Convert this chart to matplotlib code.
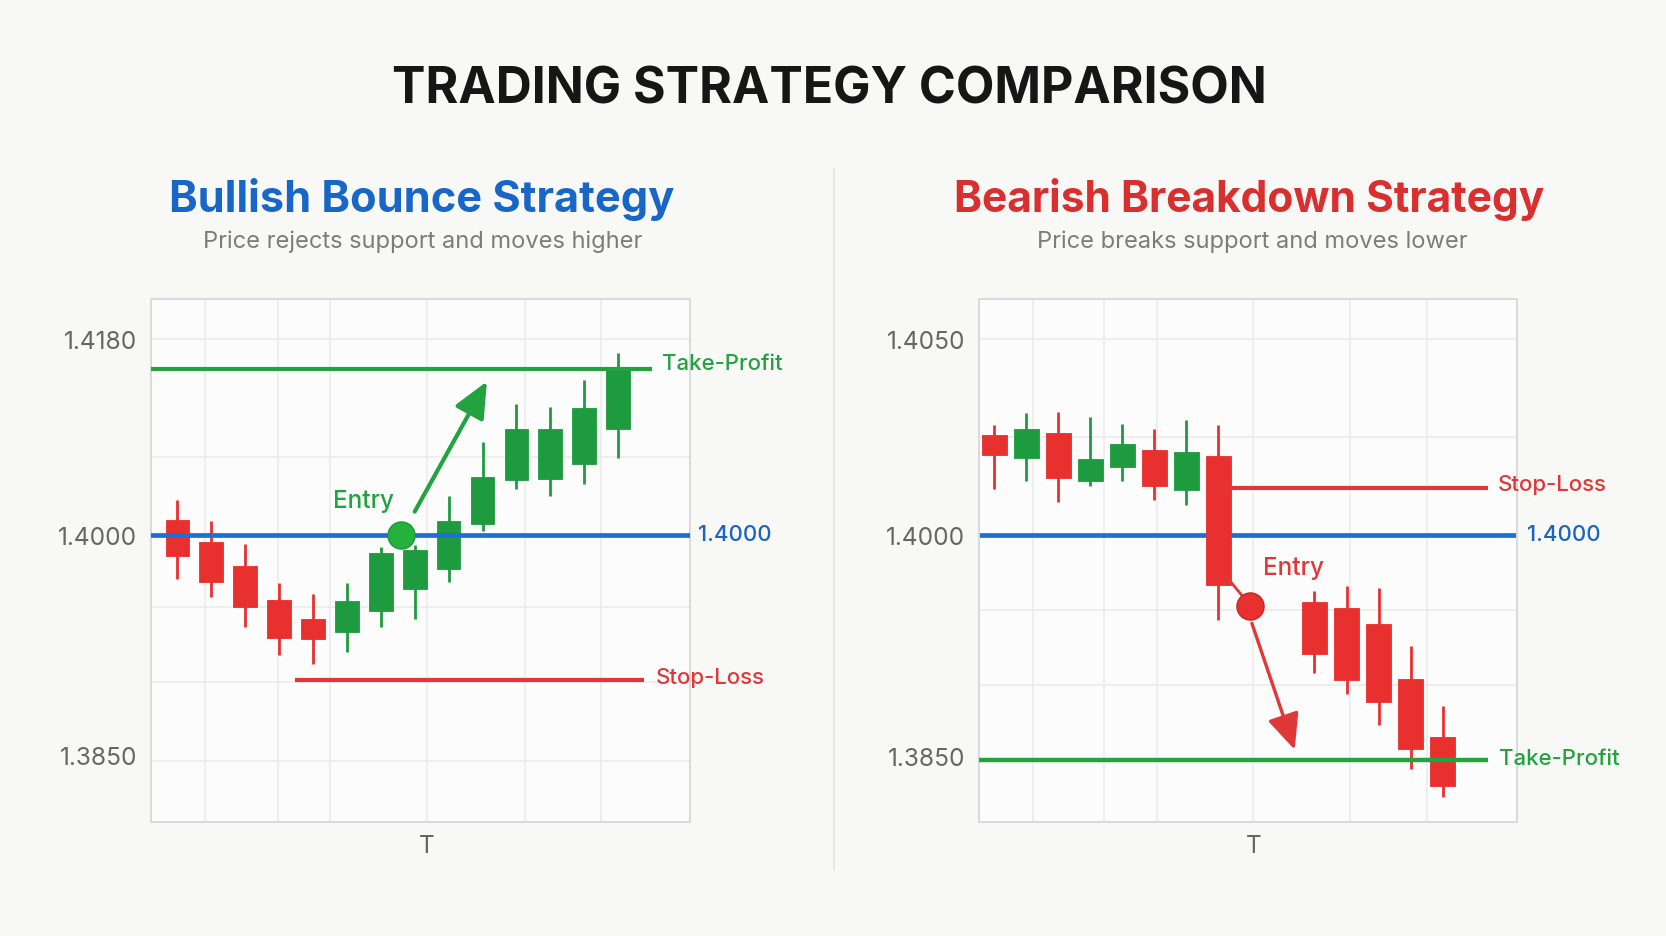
import numpy as np
import matplotlib
matplotlib.use("Agg")
import matplotlib.pyplot as plt
from matplotlib.patches import FancyArrowPatch
from matplotlib.lines import Line2D

# ---------------- data ----------------
bull_t = list(range(14))
bull_open  = [1.4014, 1.3995, 1.3979, 1.3956, 1.3943, 1.3934, 1.3948, 1.3963, 1.3977, 1.4010, 1.4051, 1.4052, 1.4065, 1.4098]
bull_high  = [1.4032, 1.4013, 1.3994, 1.3967, 1.3960, 1.3967, 1.3992, 1.3993, 1.4036, 1.4086, 1.4121, 1.4118, 1.4143, 1.4168]
bull_low   = [1.3970, 1.3958, 1.3937, 1.3918, 1.3912, 1.3920, 1.3937, 1.3943, 1.3968, 1.4004, 1.4042, 1.4036, 1.4047, 1.4071]
bull_close = [1.3986, 1.3968, 1.3951, 1.3930, 1.3929, 1.3955, 1.3988, 1.3990, 1.4013, 1.4053, 1.4098, 1.4098, 1.4117, 1.4152]

bear_t = [0, 1, 2, 3, 4, 5, 6, 7, 10, 11, 12, 13, 14]
bear_open  = [1.40255, 1.40196, 1.40259, 1.40138, 1.40173, 1.40218, 1.40115, 1.40202, 1.39544, 1.39503, 1.39393, 1.39018, 1.38624]
bear_high  = [1.40281, 1.40311, 1.40313, 1.40300, 1.40283, 1.40270, 1.40293, 1.40281, 1.39621, 1.39655, 1.39637, 1.39247, 1.38839]
bear_low   = [1.40117, 1.40139, 1.40085, 1.40126, 1.40139, 1.40089, 1.40077, 1.39422, 1.39059, 1.38916, 1.38710, 1.38408, 1.38216]
bear_close = [1.40205, 1.40270, 1.40145, 1.40195, 1.40233, 1.40124, 1.40212, 1.39662, 1.39190, 1.39016, 1.38866, 1.38542, 1.38295]

support_level = 1.4000
bull_tp, bull_sl = 1.4153, 1.3901
bear_sl, bear_tp = 1.4012, 1.3847

bull_entry = (6.61, 1.4000)
bear_entry = (8.0, 1.3952)

bull_yticks = [1.3850, 1.4000, 1.4180]
bear_yticks = [1.3850, 1.4000, 1.4050]
tick_fmt = "{:.4f}"
x_label = "T"

main_title = "TRADING STRATEGY COMPARISON"
bull_title = "Bullish Bounce Strategy"
bull_sub = "Price rejects support and moves higher"
bear_title = "Bearish Breakdown Strategy"
bear_sub = "Price breaks support and moves lower"

# ---------------- style ----------------
GREEN = "#1f9b3f"
GREEN_LINE = "#23a340"
DOT_GREEN = "#24b13c"
RED = "#e8302f"
RED_LINE = "#e03838"
BLUE_LINE = "#1d6fd8"
BLUE_TXT = "#1c63c4"
TITLE_BLUE = "#1766c8"
TITLE_RED = "#d92f2f"
GRID = "#ebebeb"
SPINE = "#dadada"
BG = "#f8f8f7"
AX_BG = "#fcfcfc"

W, H = 1666, 937
fig = plt.figure(figsize=(W / 100, H / 100), dpi=100, facecolor=BG)


def piecewise_scale(prices, fracs):
    p = np.asarray(prices, float)
    f = np.asarray(fracs, float)
    s0 = (f[1] - f[0]) / (p[1] - p[0])
    s1 = (f[-1] - f[-2]) / (p[-1] - p[-2])
    P = np.concatenate([[p[0] - 1.0], p, [p[-1] + 1.0]])
    F = np.concatenate([[f[0] - s0], f, [f[-1] + s1]])
    fwd = lambda v: np.interp(np.asarray(v, float), P, F)
    inv = lambda t: np.interp(np.asarray(t, float), F, P)
    return fwd, inv


def setup_axes(rect, yticks, fracs, xlim, ygrid, xgrid, xtick):
    ax = fig.add_axes(rect, facecolor=AX_BG)
    fwd, inv = piecewise_scale(yticks, fracs)
    ax.set_yscale("function", functions=(fwd, inv))
    ax.set_ylim(float(inv(0.0)), float(inv(1.0)))
    ax.set_xlim(*xlim)
    ax.set_yticks(yticks)
    ax.set_yticklabels([tick_fmt.format(v) for v in yticks])
    ax.yaxis.set_minor_locator(matplotlib.ticker.NullLocator())
    ax.set_xticks([xtick])
    ax.set_xticklabels([x_label])
    ax.tick_params(axis="y", length=0, pad=10, labelsize=17.6, labelcolor="#666666")
    ax.tick_params(axis="x", length=0, pad=9, labelsize=17.5, labelcolor="#666666")
    for lab in ax.get_yticklabels() + ax.get_xticklabels():
        lab.set_family("Inter")
    for s in ax.spines.values():
        s.set_color(SPINE)
        s.set_linewidth(1.4)
    for y in ygrid:
        ax.axhline(y, color=GRID, lw=1.1, zorder=0.5)
    for x in xgrid:
        ax.axvline(x, color=GRID, lw=1.1, zorder=0.5)
    return ax


def draw_candles(ax, t, o, h, l, c, width, z):
    o, h, l, c = map(np.asarray, (o, h, l, c))
    colors = np.where(c >= o, GREEN, RED)
    ax.vlines(t, l, h, colors=colors, lw=2.0, zorder=z)
    ax.bar(t, c - o, bottom=o, width=width, color=colors, edgecolor=colors,
           lw=0.6, zorder=z + 0.1)


def level_label(ax, x, y, text, color, dy=0):
    ax.annotate(text, (x, y), xytext=(0, dy), textcoords="offset points",
                fontsize=16, fontweight="medium", family="Inter", va="center",
                ha="left", color=color, annotation_clip=False)


# ---------------- left panel ----------------
axL = setup_axes([151 / W, 1 - 823 / H, 539 / W, 523.5 / H], bull_yticks,
                 [0.1280, 0.5482, 0.9217], (-0.779, 15.12),
                 [1.4180, 1.4072, 1.3951, 1.3900, 1.3846],
                 [0.81, 2.96, 4.50, 7.35, 10.25, 12.50], 7.35)
draw_candles(axL, bull_t, bull_open, bull_high, bull_low, bull_close, 0.70, 2)
axL.axhline(support_level, color=BLUE_LINE, lw=3.4, zorder=3)
x0 = axL.get_xlim()[0]
axL.hlines(bull_tp, x0, 14.01, color=GREEN_LINE, lw=3.0, zorder=3)
axL.hlines(bull_sl, 3.47, 13.77, color=RED_LINE, lw=3.0, zorder=3)
level_label(axL, 14.30, bull_tp, "Take-Profit", GREEN_LINE, dy=4.5)
level_label(axL, 15.37, support_level, tick_fmt.format(support_level), BLUE_TXT, dy=0.5)
level_label(axL, 14.12, bull_sl, "Stop-Loss", RED_LINE, dy=2.5)
axL.add_patch(FancyArrowPatch((6.96, 1.40193), (9.17, 1.41436),
                              arrowstyle="-|>,head_length=1.0,head_width=0.45",
                              mutation_scale=22, lw=3.0, color=GREEN_LINE, zorder=5))
axL.plot(*bull_entry, "o", ms=19.5, color=DOT_GREEN, mec="#1c9a35", mew=1, zorder=6)
axL.text(5.49, 1.40322, "Entry", color=GREEN_LINE, ha="center", va="center",
         fontsize=17.5, fontweight="medium", family="Inter")

# ---------------- right panel ----------------
axR = setup_axes([979.3 / W, 1 - 823 / H, 537.7 / W, 523.5 / H], bear_yticks,
                 [0.1270, 0.5482, 0.9226], (-0.459, 16.32),
                 [1.4050, 1.4025, 1.3949, 1.3898],
                 [1.23, 3.44, 5.10, 8.09, 11.11, 13.50], 8.09)
axR.axhline(support_level, color=BLUE_LINE, lw=3.4, zorder=2)
draw_candles(axR, bear_t, bear_open, bear_high, bear_low, bear_close, 0.78, 3)
x0 = axR.get_xlim()[0]
axR.hlines(bear_tp, x0, 15.42, color=GREEN_LINE, lw=3.2, zorder=4)
axR.hlines(bear_sl, 7.25, 15.40, color=RED_LINE, lw=3.0, zorder=4)
level_label(axR, 15.72, bear_sl, "Stop-Loss", RED_LINE, dy=3)
level_label(axR, 16.63, support_level, tick_fmt.format(support_level), BLUE_TXT, dy=0.5)
level_label(axR, 15.76, bear_tp, "Take-Profit", GREEN_LINE, dy=1.5)
axR.plot([7.31, bear_entry[0]], [1.39701, bear_entry[1]], color=RED_LINE, lw=2.0, zorder=5)
axR.add_patch(FancyArrowPatch((8.02, 1.39417), (9.41, 1.38522),
                              arrowstyle="-|>,head_length=1.0,head_width=0.45",
                              mutation_scale=22, lw=2.4, color=RED_LINE, zorder=5))
axR.plot(*bear_entry, "o", ms=19.5, color=RED, mec="#c42525", mew=1, zorder=6)
axR.text(9.34, 1.3978, "Entry", color=RED_LINE, ha="center", va="center",
         fontsize=17.5, fontweight="medium", family="Inter")

# ---------------- titles ----------------
fig.text(829 / W, 1 - 104 / H, main_title, ha="center", va="baseline",
         fontsize=36, fontweight="bold", family="Inter", color="#161616")
fig.text(421.4 / W, 1 - 212 / H, bull_title, ha="center", va="baseline",
         fontsize=31.2, fontweight="bold", family="Inter", color=TITLE_BLUE)
fig.text(422.9 / W, 1 - 248 / H, bull_sub, ha="center", va="baseline",
         fontsize=17, family="Inter", color="#7c7c7c")
fig.text(1249 / W, 1 - 212 / H, bear_title, ha="center", va="baseline",
         fontsize=30.6, fontweight="bold", family="Inter", color=TITLE_RED)
fig.text(1252 / W, 1 - 248 / H, bear_sub, ha="center", va="baseline",
         fontsize=17, family="Inter", color="#7c7c7c")

fig.add_artist(Line2D([834 / W, 834 / W], [1 - 170 / H, 1 - 871 / H],
                      color="#e4e4e4", lw=1.2, transform=fig.transFigure))

fig.savefig("out.png", dpi=100, facecolor=BG)
